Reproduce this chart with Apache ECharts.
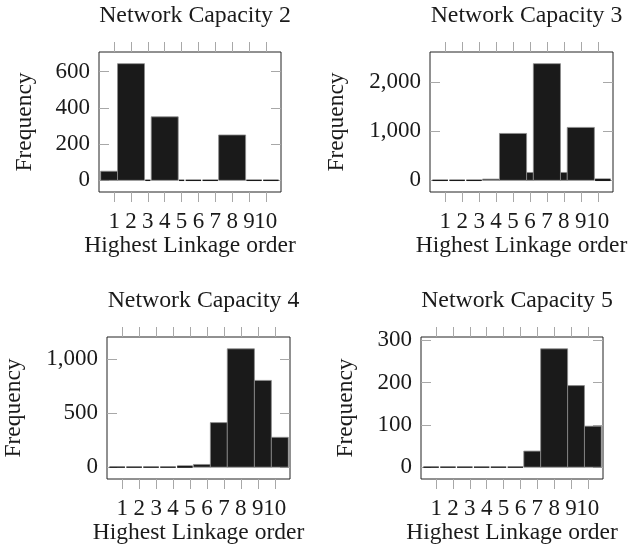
<!DOCTYPE html>
<html>
<head>
<meta charset="utf-8">
<script src="https://cdn.jsdelivr.net/npm/echarts@6/dist/echarts.min.js"></script>
<style>
  html, body { margin: 0; padding: 0; background: #ffffff; }
  #chart { width: 630px; height: 559px; }
</style>
</head>
<body>
<div id="chart"></div>
<script>
// Tick positions on the "Highest Linkage order" axis
const orderTicks = [1, 2, 3, 4, 5, 6, 7, 8, 9, 10];
// The two-digit label is laid out on its own so it may sit tight against "9"
const orderLabelsLow = [1, 2, 3, 4, 5, 6, 7, 8, 9];
const orderLabelsHigh = [10];

const panelTitles = ['Network Capacity 2', 'Network Capacity 3', 'Network Capacity 4', 'Network Capacity 5'];

// Histogram bins: edges along the order axis and the frequency in each bin
const edgesCap2 = [0.2, 1.2, 2.8, 3.2, 4.8, 5.2, 6.2, 7.2, 8.8, 9.8, 10.8];
const freqCap2  = [50, 643, 0, 350, 0, 0, 0, 250, 0, 0];

const edgesCap3 = [0.2, 1.2, 2.2, 3.2, 4.2, 5.8, 6.2, 7.8, 8.2, 9.8, 10.8];
const freqCap3  = [0, 0, 0, 25, 955, 160, 2376, 160, 1078, 20];

const edgesCap4 = [0.2, 1.2, 2.2, 3.2, 4.2, 5.2, 6.2, 7.2, 8.8, 9.8, 10.8];
const freqCap4  = [0, 0, 0, 0, 8, 25, 412, 1094, 802, 276];

const edgesCap5 = [0.2, 1.2, 2.2, 3.2, 4.2, 5.2, 6.2, 7.2, 8.8, 9.8, 10.8];
const freqCap5  = [0, 0, 0, 0, 0, 0, 38, 280, 193, 97];

// Frequency tick labels per panel
const yTicksCap2 = [0, 200, 400, 600];
const yTicksCap3 = [0, 1000, 2000];
const yTicksCap4 = [0, 500, 1000];
const yTicksCap5 = [0, 100, 200, 300];

const FONT = 'Liberation Serif';
const TEXT = '#1a1a1a';
const TICK = '#a8a8a8';

const panels = [
  { edges: edgesCap2, freq: freqCap2, yTicks: yTicksCap2, box: { left: 99, top: 52, width: 182, height: 140 }, nameGap: 62 },
  { edges: edgesCap3, freq: freqCap3, yTicks: yTicksCap3, box: { left: 430, top: 52, width: 183, height: 140 }, nameGap: 81 },
  { edges: edgesCap4, freq: freqCap4, yTicks: yTicksCap4, box: { left: 107, top: 337, width: 183, height: 142 }, nameGap: 81 },
  { edges: edgesCap5, freq: freqCap5, yTicks: yTicksCap5, box: { left: 421, top: 337, width: 182, height: 142 }, nameGap: 63 }
];

function withCommas(v) {
  return String(v).replace(/\B(?=(\d{3})+(?!\d))/g, ',');
}

// Each bin is a filled interval from its left edge to its right edge
function renderBin(params, api) {
  const x0 = api.value(0), x1 = api.value(1), h = api.value(2);
  const pTop = api.coord([x0, h]);
  const pBase = api.coord([x1, 0]);
  const left = pTop[0], right = pBase[0];
  const top = pTop[1], base = pBase[1];
  if (base - top < 1.2) {
    return {
      type: 'rect',
      shape: { x: left + 0.7, y: top - 0.7, width: right - left - 1.4, height: (base - top) + 1.4 },
      style: { fill: '#1a1a1a' }
    };
  }
  return {
    type: 'rect',
    shape: { x: left, y: top, width: right - left, height: base - top },
    style: { fill: '#1a1a1a', stroke: '#8c8c8c', lineWidth: 0.8 }
  };
}

const option = {
  animation: false,
  backgroundColor: '#ffffff',
  textStyle: { fontFamily: FONT, color: TEXT },
  title: [],
  grid: [],
  xAxis: [],
  yAxis: [],
  series: []
};

const labelFont = { fontFamily: FONT, fontSize: 23, color: TEXT };

panels.forEach((p, i) => {
  const maxF = Math.max.apply(null, p.freq);
  const pad = maxF * 0.1;
  const cx = p.box.left + p.box.width / 2;

  option.title.push({
    text: panelTitles[i],
    left: cx,
    top: p.box.top - 53,
    textAlign: 'center',
    textStyle: { fontFamily: FONT, fontSize: 23.8, fontWeight: 'normal', color: TEXT }
  });

  option.grid.push({
    left: p.box.left, top: p.box.top, width: p.box.width, height: p.box.height,
    show: true, borderColor: '#222222', borderWidth: 1, backgroundColor: 'transparent'
  });

  const xCommon = {
    type: 'value', gridIndex: i, min: 0.1, max: 10.9,
    axisLine: { show: false, onZero: false },
    splitLine: { show: false },
    axisTick: { show: true, inside: false, length: 10, customValues: orderTicks, lineStyle: { color: TICK, width: 1 } }
  };
  // bottom: ticks, labels 1-9 and the axis title
  option.xAxis.push(Object.assign({}, xCommon, {
    position: 'bottom',
    name: 'Highest Linkage order',
    nameLocation: 'middle',
    nameGap: 40,
    nameTextStyle: { fontFamily: FONT, fontSize: 23.5, color: TEXT },
    axisLabel: Object.assign({ show: true, customValues: orderLabelsLow, margin: 18, hideOverlap: false }, labelFont)
  }));
  // top: ticks only
  option.xAxis.push(Object.assign({}, xCommon, {
    position: 'top',
    axisLabel: { show: false }
  }));
  // bottom: the "10" label
  option.xAxis.push(Object.assign({}, xCommon, {
    position: 'bottom',
    axisTick: { show: false },
    axisLabel: Object.assign({ show: true, customValues: orderLabelsHigh, margin: 18, hideOverlap: false }, labelFont)
  }));

  const yCommon = {
    type: 'value', gridIndex: i, min: -pad, max: maxF + pad,
    axisLine: { show: false, onZero: false },
    splitLine: { show: false },
    axisTick: { show: true, inside: true, length: 10, customValues: p.yTicks, lineStyle: { color: TICK, width: 1 } }
  };
  option.yAxis.push(Object.assign({}, yCommon, {
    position: 'left',
    name: 'Frequency',
    nameLocation: 'middle',
    nameRotate: 90,
    nameGap: p.nameGap,
    nameTextStyle: { fontFamily: FONT, fontSize: 23.5, color: TEXT },
    axisLabel: Object.assign({ show: true, customValues: p.yTicks, margin: 9, hideOverlap: false, formatter: withCommas }, labelFont)
  }));
  option.yAxis.push(Object.assign({}, yCommon, {
    position: 'right',
    axisLabel: { show: false }
  }));

  const bins = p.freq.map((f, k) => [p.edges[k], p.edges[k + 1], f]);
  option.series.push({
    type: 'custom',
    xAxisIndex: i * 3,
    yAxisIndex: i * 2,
    clip: true,
    renderItem: renderBin,
    encode: { x: [0, 1], y: 2 },
    data: bins,
    silent: true
  });
});

const chart = echarts.init(document.getElementById('chart'), null, { renderer: 'canvas' });
chart.setOption(option);
</script>
</body>
</html>
